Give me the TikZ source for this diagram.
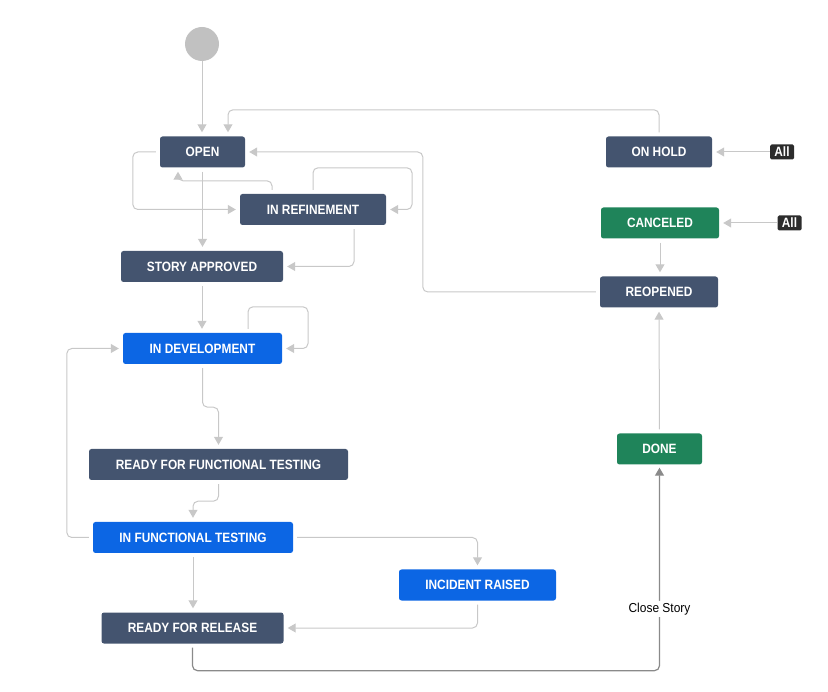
\documentclass[tikz,border=0pt]{standalone}
\usepackage{fontspec}
\setmainfont{Liberation Sans}
\newfontfamily\boxfont[FakeStretch=0.88]{Liberation Sans}
\newfontfamily\lblfont[FakeStretch=0.92]{Liberation Sans}
\usetikzlibrary{arrows.meta}
\definecolor{slate}{HTML}{44546F}
\definecolor{jblue}{HTML}{0C66E4}
\definecolor{jgreen}{HTML}{1F845A}
\definecolor{badge}{HTML}{2C2C2C}
\definecolor{lineg}{HTML}{C8C8C8}
\definecolor{lined}{HTML}{8A8A8A}
\definecolor{startg}{HTML}{C1C1C1}
\tikzset{
  st/.style={rounded corners=2.5pt, text=white, inner sep=0pt, minimum height=31pt,
    font=\boxfont\bfseries\fontsize{13.5}{15}\selectfont},
  slatebox/.style={st, fill=slate},
  bluebox/.style={st, fill=jblue},
  greenbox/.style={st, fill=jgreen},
  allbadge/.style={rounded corners=1.5pt, fill=badge, text=white, inner sep=0pt,
    minimum width=24pt, minimum height=15pt, font=\boxfont\bfseries\fontsize{13.5}{15}\selectfont},
  conn/.style={draw=lineg, line width=1pt, rounded corners=5pt, shorten <=4pt, shorten >=4pt,
    -{Triangle[length=8pt,width=9pt]}},
  closeconn/.style={draw=lined, line width=1.2pt, rounded corners=5pt, shorten <=4pt, shorten >=3pt,
    -{Triangle[length=8pt,width=9pt]}},
}
\begin{document}
\begin{tikzpicture}[x=1pt,y=-1pt]
\useasboundingbox (0,0) rectangle (828,692);
% start
\node[circle, fill=startg, minimum size=34pt, inner sep=0pt] (start) at (202,44) {};
% states
\node[slatebox, minimum width=85pt]  (open)     at (202.5,152) {OPEN};
\node[slatebox, minimum width=146pt] (inref)    at (313,209.5) {IN REFINEMENT};
\node[slatebox, minimum width=162pt] (sa)       at (202,266.5) {STORY APPROVED};
\node[bluebox,  minimum width=159pt] (indev)    at (202.5,348.5) {IN DEVELOPMENT};
\node[slatebox, minimum width=259pt] (rfft)     at (218.5,464.5) {READY FOR FUNCTIONAL TESTING};
\node[bluebox,  minimum width=200pt] (ift)      at (193,537.5) {IN FUNCTIONAL TESTING};
\node[bluebox,  minimum width=157pt] (ir)       at (477.5,585) {INCIDENT RAISED};
\node[slatebox, minimum width=182pt] (rfr)      at (192.5,628) {READY FOR RELEASE};
\node[greenbox, minimum width=85pt]  (done)     at (659.5,449) {DONE};
\node[slatebox, minimum width=118pt] (reopened) at (659,292) {REOPENED};
\node[greenbox, minimum width=118pt] (canceled) at (660,223) {CANCELED};
\node[slatebox, minimum width=106pt] (onhold)   at (659,152) {ON HOLD};
\node[allbadge] (all1) at (782,152) {All};
\node[allbadge] (all2) at (789.5,223) {All};
% connectors
\draw[conn, shorten <=0pt] (start.south) -- (start.south |- open.north);
\draw[conn] (onhold.north) -- ++(0,-26.5) -| ([xshift=25.5pt]open.north);
\draw[conn] (reopened.west) -- ++(-177,0) |- (open.east);
\draw[conn] (open.west) -- ++(-27,0) |- (inref.west);
\draw[conn] ([xshift=-41pt]inref.north) -- ++(0,-13) -| ([xshift=-24.5pt]open.south);
\draw[conn] (inref.north) -- ++(0,-26) -- ++(99,0) |- (inref.east);
\draw[conn] (open.south) -- (open.south |- sa.north);
\draw[conn] ([xshift=41pt]inref.south) |- (sa.east);
\draw[conn] (sa.south) -- (sa.south |- indev.north);
\draw[conn] ([xshift=45.5pt]indev.north) -- ++(0,-26) -- ++(60,0) |- (indev.east);
\draw[conn] (indev.south) -- ++(0,43) -| (rfft.north);
\draw[conn] (rfft.south) -- ++(0,21) -| (ift.north);
\draw[conn] (ift.west) -- ++(-26,0) |- (indev.west);
\draw[conn] (ift.east) -| (ir.north);
\draw[conn] (ift.south) -- (ift.south |- rfr.north);
\draw[conn] (ir.south) |- (rfr.east);
\draw[closeconn] (rfr.south) -- ++(0,27) -| (done.south)
  node[pos=0.65, fill=white, text=black, inner sep=2pt, font=\lblfont\fontsize{13}{15}\selectfont] {Close Story};
\draw[conn] (done.north) -- (reopened.south);
\draw[conn] (canceled.south) -- (canceled.south |- reopened.north);
\draw[conn, shorten <=0pt] (all1.west) -- (onhold.east);
\draw[conn, shorten <=0pt] (all2.west) -- (canceled.east);
\end{tikzpicture}
\end{document}
